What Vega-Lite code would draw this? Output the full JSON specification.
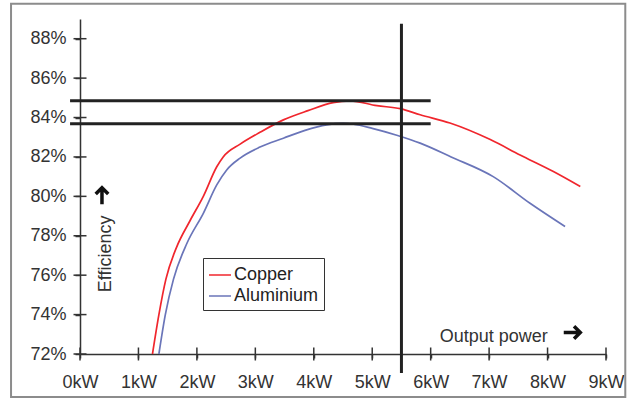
{
  "$schema": "https://vega.github.io/schema/vega-lite/v6.json",
  "width": 526,
  "height": 335,
  "autosize": "none",
  "padding": {"left": 80, "top": 19, "right": 23, "bottom": 49},
  "background": "white",
  "config": {
    "view": {"stroke": null},
    "font": "Liberation Sans",
    "axis": {"grid": false}
  },
  "datasets": {
    "curves": [
      {"series": "Copper", "kw": 1.24, "eff": 72.0},
      {"series": "Copper", "kw": 1.35, "eff": 74.0},
      {"series": "Copper", "kw": 1.47, "eff": 75.8},
      {"series": "Copper", "kw": 1.65, "eff": 77.4},
      {"series": "Copper", "kw": 1.88, "eff": 78.75},
      {"series": "Copper", "kw": 2.11, "eff": 80.0},
      {"series": "Copper", "kw": 2.34, "eff": 81.5},
      {"series": "Copper", "kw": 2.45, "eff": 82.0},
      {"series": "Copper", "kw": 2.74, "eff": 82.65},
      {"series": "Copper", "kw": 3.08, "eff": 83.25},
      {"series": "Copper", "kw": 3.48, "eff": 83.88},
      {"series": "Copper", "kw": 3.9, "eff": 84.35},
      {"series": "Copper", "kw": 4.33, "eff": 84.76},
      {"series": "Copper", "kw": 4.62, "eff": 84.85},
      {"series": "Copper", "kw": 5.08, "eff": 84.6},
      {"series": "Copper", "kw": 5.48, "eff": 84.45},
      {"series": "Copper", "kw": 5.82, "eff": 84.14},
      {"series": "Copper", "kw": 6.33, "eff": 83.72},
      {"series": "Copper", "kw": 7.02, "eff": 82.88},
      {"series": "Copper", "kw": 7.53, "eff": 82.1},
      {"series": "Copper", "kw": 8.1, "eff": 81.26},
      {"series": "Copper", "kw": 8.56, "eff": 80.5},
      {"series": "Aluminium", "kw": 1.35, "eff": 72.0},
      {"series": "Aluminium", "kw": 1.46, "eff": 74.0},
      {"series": "Aluminium", "kw": 1.6, "eff": 75.8},
      {"series": "Aluminium", "kw": 1.83, "eff": 77.62},
      {"series": "Aluminium", "kw": 2.11, "eff": 79.14},
      {"series": "Aluminium", "kw": 2.34, "eff": 80.58},
      {"series": "Aluminium", "kw": 2.51, "eff": 81.34},
      {"series": "Aluminium", "kw": 2.74, "eff": 81.94},
      {"series": "Aluminium", "kw": 3.08, "eff": 82.5},
      {"series": "Aluminium", "kw": 3.48, "eff": 82.95},
      {"series": "Aluminium", "kw": 3.85, "eff": 83.35},
      {"series": "Aluminium", "kw": 4.22, "eff": 83.63},
      {"series": "Aluminium", "kw": 4.5, "eff": 83.7},
      {"series": "Aluminium", "kw": 4.68, "eff": 83.66},
      {"series": "Aluminium", "kw": 5.0, "eff": 83.45},
      {"series": "Aluminium", "kw": 5.42, "eff": 83.1},
      {"series": "Aluminium", "kw": 5.82, "eff": 82.7},
      {"series": "Aluminium", "kw": 6.35, "eff": 82.0},
      {"series": "Aluminium", "kw": 7.07, "eff": 81.0},
      {"series": "Aluminium", "kw": 7.7, "eff": 79.65},
      {"series": "Aluminium", "kw": 8.3, "eff": 78.47}
    ],
    "frame": [{"x1": -1.18, "x2": 9.33, "y1": 69.82, "y2": 89.78}],
    "hlines": [
      {"x1": -0.17, "x2": 6.0, "y": 84.85},
      {"x1": -0.17, "x2": 6.0, "y": 83.68}
    ],
    "vlines": [{"x": 5.5, "y1": 71.03, "y2": 88.76}],
    "yticks": [{"v": 72}, {"v": 74}, {"v": 76}, {"v": 78}, {"v": 80}, {"v": 82}, {"v": 84}, {"v": 86}, {"v": 88}],
    "xticks": [{"v": 0}, {"v": 1}, {"v": 2}, {"v": 3}, {"v": 4}, {"v": 5}, {"v": 6}, {"v": 7}, {"v": 8}, {"v": 9}],
    "ytitle": [{"x": 0.445, "y": 77.08, "text": "Efficiency"}],
    "yarrow": [{"x": 0.376, "y": 80.05}],
    "xtitle": [{"x": 7.08, "y": 72.86, "text": "Output power"}],
    "xarrow": [{"x": 8.43, "y": 73.09}]
  },
  "layer": [
    {
      "data": {"name": "frame"},
      "mark": {"type": "rect", "fill": null, "fillOpacity": 0, "stroke": "#8c8c8c", "strokeWidth": 2},
      "encoding": {
        "x": {"field": "x1", "type": "quantitative", "scale": {"domain": [0, 9], "nice": false, "zero": false}},
        "x2": {"field": "x2"},
        "y": {"field": "y1", "type": "quantitative", "scale": {"domain": [72, 89], "nice": false, "zero": false}},
        "y2": {"field": "y2"}
      }
    },
    {
      "data": {"name": "curves"},
      "mark": {"type": "line", "strokeWidth": 1.7, "interpolate": "monotone"},
      "encoding": {
        "x": {
          "field": "kw", "type": "quantitative",
          "axis": {
            "title": null,
            "values": [0, 0.5, 1, 1.5, 2, 2.5, 3, 3.5, 4, 4.5, 5, 5.5, 6, 6.5, 7, 7.5, 8, 8.5, 9],
            "labelExpr": "datum.value % 1 == 0 ? datum.value + 'kW' : ''",
            "labelFlush": false, "labelOverlap": false,
            "domainColor": "#333", "domainWidth": 1.5,
            "tickColor": "#333", "tickWidth": 1.5, "tickSize": 4,
            "labelFontSize": 18, "labelColor": "#333", "labelPadding": 15,
            "labelFont": "Liberation Sans"
          }
        },
        "y": {
          "field": "eff", "type": "quantitative",
          "axis": {
            "title": null,
            "values": [72, 73, 74, 75, 76, 77, 78, 79, 80, 81, 82, 83, 84, 85, 86, 87, 88, 89],
            "labelExpr": "datum.value % 2 == 0 && datum.value < 89 ? datum.value + '%' : ''",
            "labelFlush": false, "labelOverlap": false,
            "domainColor": "#333", "domainWidth": 1.5,
            "tickColor": "#333", "tickWidth": 1.5, "tickSize": 5,
            "labelFontSize": 18, "labelColor": "#333", "labelPadding": 9,
            "labelFont": "Liberation Sans"
          }
        },
        "color": {
          "field": "series", "type": "nominal",
          "scale": {"domain": ["Copper", "Aluminium"], "range": ["#f0262d", "#6a75b9"]},
          "legend": {
            "title": null, "orient": "none", "legendX": 123, "legendY": 239,
            "strokeColor": "#333", "fillColor": "white", "padding": 5,
            "labelFontSize": 18, "labelColor": "#222", "labelFont": "Liberation Sans",
            "symbolType": "stroke", "symbolSize": 484, "symbolStrokeWidth": 1.5,
            "labelOffset": 2, "rowPadding": 0
          }
        }
      }
    },
    {
      "data": {"name": "hlines"},
      "mark": {"type": "rule", "stroke": "#222", "strokeWidth": 3},
      "encoding": {
        "x": {"field": "x1", "type": "quantitative"},
        "x2": {"field": "x2"},
        "y": {"field": "y", "type": "quantitative"}
      }
    },
    {
      "data": {"name": "vlines"},
      "mark": {"type": "rule", "stroke": "#222", "strokeWidth": 3},
      "encoding": {
        "x": {"field": "x", "type": "quantitative"},
        "y": {"field": "y1", "type": "quantitative"},
        "y2": {"field": "y2"}
      }
    },
    {
      "data": {"name": "yticks"},
      "mark": {"type": "tick", "orient": "horizontal", "size": 13, "thickness": 1.5, "color": "#333", "opacity": 1},
      "encoding": {
        "x": {"datum": 0, "type": "quantitative"},
        "y": {"field": "v", "type": "quantitative"}
      }
    },
    {
      "data": {"name": "xticks"},
      "mark": {"type": "tick", "orient": "vertical", "size": 13, "thickness": 1.5, "color": "#333", "opacity": 1},
      "encoding": {
        "x": {"field": "v", "type": "quantitative"},
        "y": {"datum": 72, "type": "quantitative"}
      }
    },
    {
      "data": {"name": "ytitle"},
      "mark": {"type": "text", "fontSize": 18, "color": "#333", "align": "center", "baseline": "middle", "font": "Liberation Sans", "angle": 270},
      "encoding": {
        "x": {"field": "x", "type": "quantitative"},
        "y": {"field": "y", "type": "quantitative"},
        "text": {"field": "text"}
      }
    },
    {
      "data": {"name": "yarrow"},
      "mark": {"type": "point", "shape": "M -1 0 L 0.8 0 M 0.15 -0.7 L 0.85 0 L 0.15 0.7", "filled": false, "size": 320, "stroke": "#111", "strokeWidth": 3.5, "opacity": 1, "angle": 270},
      "encoding": {
        "x": {"field": "x", "type": "quantitative"},
        "y": {"field": "y", "type": "quantitative"}
      }
    },
    {
      "data": {"name": "xtitle"},
      "mark": {"type": "text", "fontSize": 18, "color": "#333", "align": "center", "baseline": "middle", "font": "Liberation Sans"},
      "encoding": {
        "x": {"field": "x", "type": "quantitative"},
        "y": {"field": "y", "type": "quantitative"},
        "text": {"field": "text"}
      }
    },
    {
      "data": {"name": "xarrow"},
      "mark": {"type": "point", "shape": "M -1 0 L 0.8 0 M 0.15 -0.7 L 0.85 0 L 0.15 0.7", "filled": false, "size": 320, "stroke": "#111", "strokeWidth": 3.5, "opacity": 1},
      "encoding": {
        "x": {"field": "x", "type": "quantitative"},
        "y": {"field": "y", "type": "quantitative"}
      }
    }
  ]
}
